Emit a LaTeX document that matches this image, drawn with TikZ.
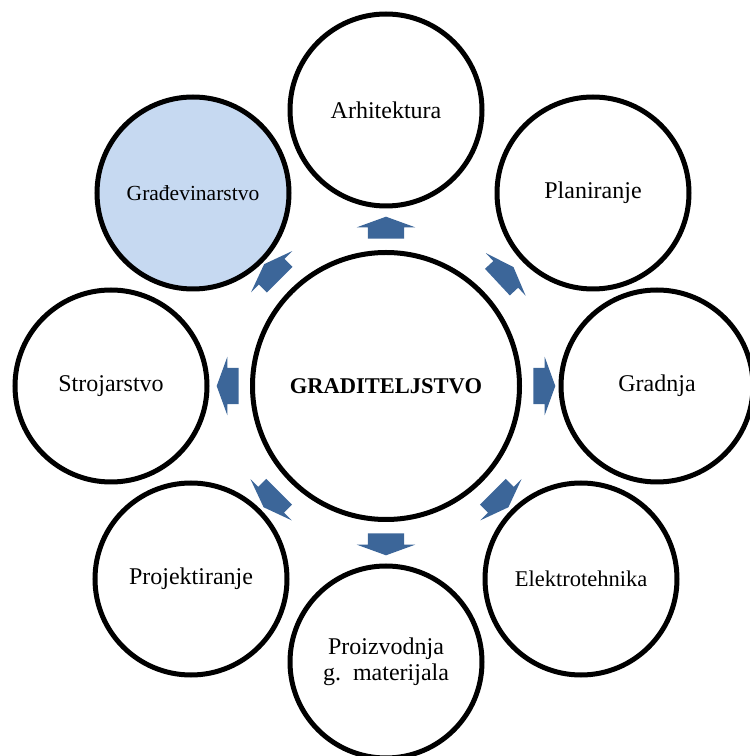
\documentclass[tikz,border=0pt]{standalone}
\usepackage{fontspec}
\setmainfont{Liberation Serif}
\usepackage{xcolor}
\usepackage{tikz}
\usetikzlibrary{shapes,arrows,positioning,calc}
\definecolor{arrowblue}{HTML}{3C6699}
\definecolor{paleblue}{HTML}{C6D9F1}

\begin{document}
\begin{tikzpicture}[x=1pt, y=1pt,
    field/.style={draw, circle, line width=5pt, minimum size=192pt, inner sep=0pt, align=center, font=\fontsize{24}{26}\selectfont},
    blockarrow/.style={single arrow, fill=arrowblue, draw=none, inner sep=0pt, text width=0pt, text height=18pt, text depth=18pt, minimum height=22pt, single arrow head extend=11pt, single arrow tip angle=140}]
    \useasboundingbox (0,0) rectangle (750,756);
    \node (hub) [draw, circle, line width=5pt, minimum size=267pt, inner sep=0pt, font=\fontsize{22.5}{26}\selectfont\bfseries] at (386,370) {GRADITELJSTVO};
    \node (arch) [field] at (386,646) {Arhitektura};
    \node (plan) [field] at (593,563) {Planiranje};
    \node (grad) [field] at (657,370) {Gradnja};
    \node (elek) [field, font=\fontsize{22.5}{26}\selectfont] at (581,177) {Elektrotehnika};
    \node (proiz) [field] at (386,94) {Proizvodnja\\g.\ \ materijala};
    \node (proj) [field] at (191,177) {Projektiranje};
    \node (stroj) [field] at (111,370) {Strojarstvo};
    \node (gradj) [field, fill=paleblue, font=\fontsize{21.5}{26}\selectfont] at (193,563) {Građevinarstvo};
    \foreach \n/\a/\d in {arch/90/155, plan/43/160, grad/0/155, elek/-45/158, proiz/-90/155, proj/-135/158, stroj/180/155, gradj/135/158}
        \node [blockarrow, rotate=\a] at ($(hub)!\d pt!(\n)$) {};
\end{tikzpicture}
\end{document}
